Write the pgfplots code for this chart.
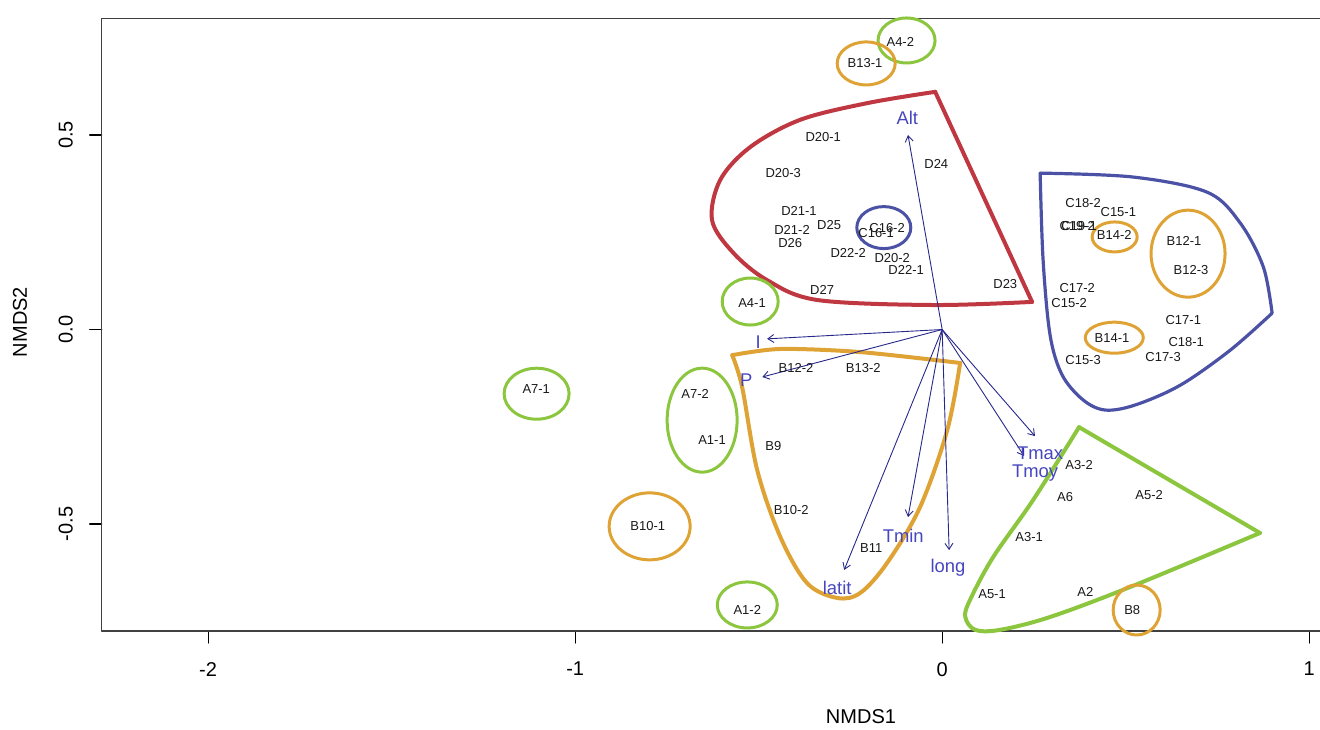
\documentclass[border=0pt]{standalone}
\usepackage{pgfplots}
\pgfplotsset{compat=1.18}
\usepackage{fontspec}
\setmainfont{Liberation Sans}
\usetikzlibrary{arrows.meta}
\definecolor{cgreen}{RGB}{140,198,63}
\definecolor{corange}{RGB}{222,163,52}
\definecolor{cred}{RGB}{190,55,65}
\definecolor{cblue}{RGB}{75,82,165}
\definecolor{vlab}{RGB}{70,70,190}
\definecolor{arr}{RGB}{40,40,140}

\pgfplotstableread{
x y lab
-0.324 0.495 D20-1
-0.433 0.402 D20-3
-0.390 0.305 D21-1
-0.409 0.256 D21-2
-0.308 0.269 D25
-0.414 0.222 D26
-0.150 0.261 C16-2
-0.180 0.248 C16-1
-0.256 0.197 D22-2
-0.136 0.184 D20-2
-0.098 0.153 D22-1
-0.327 0.102 D27
0.172 0.117 D23
-0.016 0.425 D24
0.384 0.325 C18-2
0.480 0.302 C15-1
0.368 0.266 C19-2
0.373 0.266 C19-1
0.469 0.243 B14-2
0.659 0.228 B12-1
0.678 0.153 B12-3
0.368 0.107 C17-2
0.346 0.068 C15-2
0.657 0.024 C17-1
0.463 -0.022 B14-1
0.665 -0.032 C18-1
0.384 -0.078 C15-3
0.602 -0.071 C17-3
-0.398 -0.099 B12-2
-0.215 -0.099 B13-2
-0.460 -0.299 B9
-0.411 -0.464 B10-2
-0.193 -0.562 B11
-0.673 -0.166 A7-2
-0.627 -0.284 A1-1
-0.531 -0.721 A1-2
0.373 -0.348 A3-2
0.335 -0.431 A6
0.564 -0.425 A5-2
0.237 -0.533 A3-1
0.136 -0.680 A5-1
0.390 -0.675 A2
0.518 -0.721 B8
-1.106 -0.153 A7-1
-0.802 -0.505 B10-1
-0.518 0.068 A4-1
-0.114 0.739 A4-2
-0.210 0.685 B13-1
}\sites

\pgfplotstableread{
x y lab
-0.095 0.544 Alt
-0.501 -0.032 I
-0.534 -0.130 P
0.267 -0.317 Tmax
0.253 -0.369 Tmoy
-0.106 -0.531 Tmin
0.016 -0.613 long
-0.286 -0.665 latit
}\vars

\begin{document}
\begin{tikzpicture}
\useasboundingbox (0,0) rectangle (660pt,364.5pt);
\begin{axis}[
  at={(50.85pt,49pt)}, anchor=south west,
  scale only axis, width=610.15pt, height=306.35pt,
  xmin=-2.290, xmax=1.035, ymin=-0.775, ymax=0.800,
  xtick={-2,-1,0,1}, xticklabels={-2,-1,0,1},
  ytick={-0.5,0,0.5}, yticklabels={-0.5,0.0,0.5},
  tick align=outside, major tick length=6pt,
  xtick pos=bottom, ytick pos=left,
  tick style={black, line width=0.6pt},
  axis line style={line width=0.75pt, black!75},
  ticklabel style={font=\fontsize{10}{12}\selectfont, inner sep=0pt},
  yticklabel style={rotate=90, anchor=south},
  xticklabel style={anchor=north},
  xticklabel shift=9.4pt, yticklabel shift=8.3pt,
  xlabel={NMDS1}, ylabel={NMDS2},
  label style={font=\fontsize{10}{12}\selectfont},
  xlabel style={at={(axis description cs:0.6222,-0.1404)}, anchor=center},
  ylabel style={at={(axis description cs:-0.06695,0.5043)}, anchor=center, rotate=0},
  clip=false,
  line cap=round, line join=round,
]
% shapes
\addplot[cred, line width=2pt, smooth, tension=0.55] coordinates {
(0.245,0.071) (-0.025,0.063) (-0.341,0.076) (-0.477,0.127) (-0.569,0.197) (-0.627,0.281) (-0.605,0.384) (-0.523,0.469) (-0.387,0.539) (-0.204,0.582) (-0.019,0.611)};
\addplot[cred, line width=2pt] coordinates {(-0.019,0.611) (0.245,0.071)};

\addplot[cblue, line width=1.6pt, smooth, tension=0.55] coordinates {
(0.267,0.402) (0.520,0.392) (0.722,0.353) (0.812,0.274) (0.875,0.161) (0.899,0.042)};
\addplot[cblue, line width=1.6pt, smooth, tension=0.55] coordinates {
(0.899,0.042) (0.785,-0.053) (0.649,-0.143) (0.526,-0.194) (0.444,-0.207) (0.384,-0.181) (0.327,-0.117) (0.294,-0.014) (0.275,0.179) (0.267,0.402)};

\addplot[corange, line width=2pt, smooth, tension=0.5] coordinates {
(-0.572,-0.066) (-0.441,-0.050) (-0.223,-0.058) (0.049,-0.086)};
\addplot[corange, line width=2pt, smooth, tension=0.55] coordinates {
(0.049,-0.086) (0.014,-0.258) (-0.060,-0.456) (-0.150,-0.600) (-0.223,-0.677) (-0.286,-0.690) (-0.368,-0.652) (-0.441,-0.533) (-0.504,-0.361) (-0.545,-0.148) (-0.572,-0.066)};

\addplot[cgreen, line width=2pt] coordinates {(0.373,-0.251) (0.866,-0.523)};
\addplot[cgreen, line width=2pt, smooth, tension=0.55] coordinates {
(0.866,-0.523) (0.512,-0.662) (0.294,-0.739) (0.158,-0.772) (0.090,-0.772) (0.063,-0.739) (0.076,-0.695) (0.139,-0.585) (0.248,-0.438) (0.373,-0.251)};

% ellipses
\draw[cgreen, line width=1.5pt] (axis cs:-0.097,0.743) ellipse [x radius=14.25pt, y radius=11.25pt];
\draw[cgreen, line width=1.5pt] (axis cs:-0.523,0.072) ellipse [x radius=14pt, y radius=11.75pt];
\draw[cgreen, line width=1.5pt] (axis cs:-0.654,-0.233) ellipse [x radius=17.5pt, y radius=26pt];
\draw[cgreen, line width=1.5pt] (axis cs:-1.105,-0.165) ellipse [x radius=16.25pt, y radius=12.75pt];
\draw[cgreen, line width=1.5pt] (axis cs:-0.531,-0.708) ellipse [x radius=15pt, y radius=11.5pt];
\draw[corange, line width=1.5pt] (axis cs:-0.207,0.684) ellipse [x radius=14.5pt, y radius=10.75pt];
\draw[corange, line width=1.5pt] (axis cs:-0.797,-0.506) ellipse [x radius=20.25pt, y radius=16.75pt];
\draw[corange, line width=1.5pt] (axis cs:0.470,0.238) ellipse [x radius=11.25pt, y radius=7.5pt];
\draw[corange, line width=1.5pt] (axis cs:0.670,0.195) ellipse [x radius=18.5pt, y radius=21.75pt];
\draw[corange, line width=1.5pt] (axis cs:0.469,-0.021) ellipse [x radius=14.5pt, y radius=7.75pt];
\draw[corange, line width=1.5pt] (axis cs:0.530,-0.721) ellipse [x radius=11.75pt, y radius=12.5pt];
\draw[cblue, line width=1.5pt] (axis cs:-0.159,0.262) ellipse [x radius=13.5pt, y radius=10.5pt];

% arrows
\pgfplotsset{arrowst/.style={arr, line width=0.45pt, -{Straight Barb[length=3pt,width=4pt]}}}
\addplot[arrowst] coordinates {(0,0) (-0.093,0.500)};
\addplot[arrowst] coordinates {(0,0) (-0.477,-0.024)};
\addplot[arrowst] coordinates {(0,0) (-0.490,-0.122)};
\addplot[arrowst] coordinates {(0,0) (-0.267,-0.618)};
\addplot[arrowst] coordinates {(0,0) (-0.093,-0.482)};
\addplot[arrowst] coordinates {(0,0) (0.019,-0.567)};
\addplot[arrowst] coordinates {(0,0) (0.253,-0.274)};
\addplot[arrowst] coordinates {(0,0) (0.223,-0.325)};

% labels
\addplot[only marks, mark=none, nodes near coords, point meta=explicit symbolic,
  nodes near coords style={anchor=center, inner sep=0pt, text=black!90, font=\fontsize{6.5}{7}\selectfont}]
  table[x=x, y=y, meta=lab] {\sites};
\addplot[only marks, mark=none, nodes near coords, point meta=explicit symbolic,
  nodes near coords style={anchor=center, inner sep=0pt, text=vlab, font=\fontsize{9.2}{10}\selectfont}]
  table[x=x, y=y, meta=lab] {\vars};
\end{axis}
\end{tikzpicture}
\end{document}
